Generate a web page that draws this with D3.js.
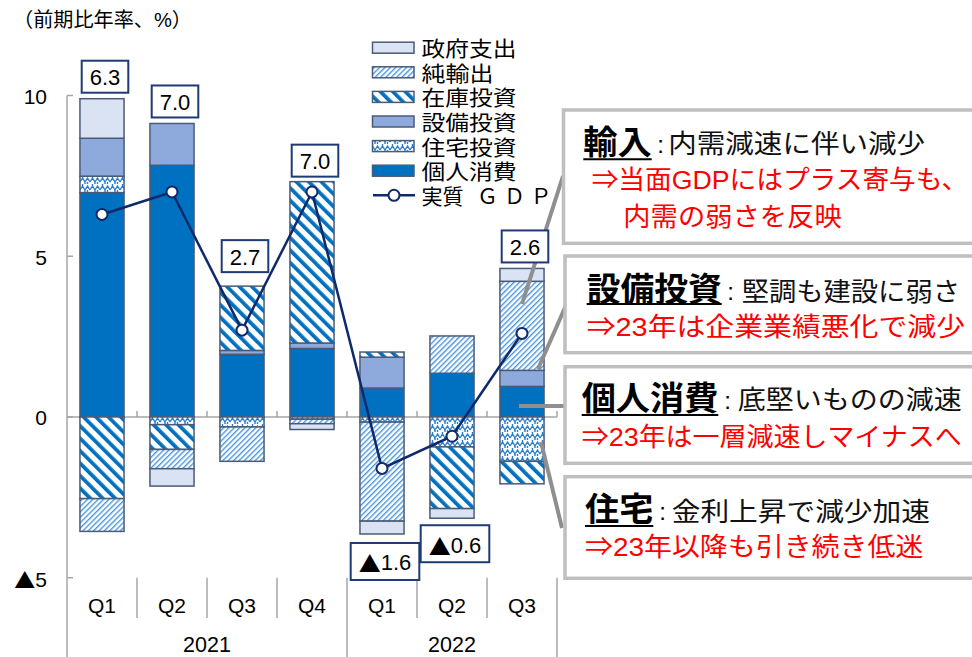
<!DOCTYPE html>
<html><head><meta charset="utf-8">
<script src="https://cdn.jsdelivr.net/npm/d3@7"></script>
<style>
html,body{margin:0;padding:0;background:#fff;}
svg{display:block;}
text{font-family:'Liberation Sans',Arial,'Noto Sans CJK JP',sans-serif;}
.tri{font-family:'Noto Sans CJK JP',sans-serif;}
</style></head>
<body>
<script>
// ---------- DATA ----------
const quarters = ["Q1","Q2","Q3","Q4","Q1","Q2","Q3"];
const years = ["2021","2022"];
const yearSpans = [4,3];
const consumption = [6.98, 7.83, 1.95, 2.13, 0.90, 1.36, 0.95];   // 個人消費
const housing     = [0.51, -0.24, -0.31, -0.07, -0.16, -0.93, -1.38]; // 住宅投資
const capex       = [1.18, 1.30, 0.12, 0.17, 0.96, 0.00, 0.50];    // 設備投資
const inventory   = [-2.54, -0.77, 2.00, 5.02, 0.16, -1.92, -0.70]; // 在庫投資
const netExports  = [-1.02, -0.60, -1.07, -0.14, -3.08, 1.16, 2.77]; // 純輸出
const government  = [1.23, -0.54, 0.00, -0.18, -0.40, -0.30, 0.40]; // 政府支出
const gdp         = [6.3, 7.0, 2.7, 7.0, -1.6, -0.6, 2.6];          // 実質ＧＤＰ
const yTicks = [10, 5, 0, -5];
const seriesNames = ["個人消費","住宅投資","設備投資","在庫投資","純輸出","政府支出"];
const legendOrder = ["政府支出","純輸出","在庫投資","設備投資","住宅投資","個人消費"];
const gdpName = ["実質", "Ｇ", "Ｄ", "Ｐ"];
const yTitle = "（前期比年率、%）";

// ---------- SETUP ----------
const W = 972, H = 657;
const svg = d3.select("body").append("svg").attr("width", W).attr("height", H);
const defs = svg.append("defs");

function stripePattern(id, period, width, color, angle) {
  const p = defs.append("pattern").attr("id", id).attr("patternUnits", "userSpaceOnUse")
    .attr("width", period).attr("height", period).attr("patternTransform", `rotate(${angle})`);
  p.append("rect").attr("width", period).attr("height", period).attr("fill", "#fff");
  p.append("rect").attr("width", width).attr("height", period).attr("fill", color);
}
stripePattern("patInv", 8.8, 3.7, "#0070C0", -45);
stripePattern("patNet", 3.8, 1.4, "#4A96DC", 45);
{
  const p = defs.append("pattern").attr("id", "patHouse").attr("patternUnits", "userSpaceOnUse")
    .attr("width", 10).attr("height", 8);
  p.append("rect").attr("width", 10).attr("height", 8).attr("fill", "#fff");
  p.append("path").attr("d", "M0,6 L2.5,2 L5,6 L7.5,2 L10,6 M2.5,2 L2.5,0 M7.5,6 L7.5,8 M5,6 L5,8")
    .attr("fill", "none").attr("stroke", "#2A7FCC").attr("stroke-width", 1.4);
}
const fills = {
  "個人消費": "#0070C0",
  "住宅投資": "url(#patHouse)",
  "設備投資": "#8EAADC",
  "在庫投資": "url(#patInv)",
  "純輸出": "url(#patNet)",
  "政府支出": "#DAE3F3"
};
const barStroke = "#4A5B78";
const navy = "#0E2A6A";
const axisGray = "#A6A6A6";

const x = d3.scaleBand().domain(d3.range(quarters.length)).range([67, 557])
  .paddingInner(0.37).paddingOuter(0.185);
const y = d3.scaleLinear().domain([-5, 10]).range([577.7, 95.5]);
const step = x.step();

function setValueText(sel, v, digits) {
  if (v < 0) {
    sel.append("tspan").attr("class", "tri").text("▲");
    sel.append("tspan").text(Math.abs(v).toFixed(digits));
  } else {
    sel.text(v.toFixed(digits));
  }
}

// ---------- AXES ----------
const ax = svg.append("g");
ax.append("line").attr("x1", 67).attr("x2", 67).attr("y1", y(10)).attr("y2", H)
  .attr("stroke", axisGray).attr("stroke-width", 1.5);
yTicks.forEach(t => {
  ax.append("line").attr("x1", 67).attr("x2", 73).attr("y1", y(t)).attr("y2", y(t))
    .attr("stroke", axisGray).attr("stroke-width", 1.5);
  const tx = ax.append("text").attr("x", 47).attr("y", y(t) + 1).attr("text-anchor", "end")
    .attr("dominant-baseline", "central").attr("font-size", 21).attr("fill", "#000");
  setValueText(tx, t, 0);
});
ax.append("line").attr("x1", 67).attr("x2", 557).attr("y1", y(0)).attr("y2", y(0))
  .attr("stroke", axisGray).attr("stroke-width", 1.5);
d3.range(1, quarters.length + 1).forEach(i => {
  const xb = 67 + step * i;
  ax.append("line").attr("x1", xb).attr("x2", xb).attr("y1", y(0) - 6).attr("y2", y(0))
    .attr("stroke", axisGray).attr("stroke-width", 1.5);
});
let cum = 0;
const yearBounds = yearSpans.map(s => (cum += s));
d3.range(1, quarters.length + 1).forEach(i => {
  const xb = 67 + step * i;
  const isYear = yearBounds.includes(i);
  ax.append("line").attr("x1", xb).attr("x2", xb).attr("y1", y(-5)).attr("y2", isYear ? H : 618)
    .attr("stroke", axisGray).attr("stroke-width", 1.5);
});
quarters.forEach((q, i) => {
  ax.append("text").attr("x", x(i) + x.bandwidth() / 2).attr("y", 605)
    .attr("text-anchor", "middle").attr("dominant-baseline", "central")
    .attr("font-size", 21).text(q);
});
let start = 0;
years.forEach((yr, k) => {
  const x0 = 67 + step * start, x1 = 67 + step * (start + yearSpans[k]);
  ax.append("text").attr("x", (x0 + x1) / 2).attr("y", 645)
    .attr("text-anchor", "middle").attr("dominant-baseline", "central")
    .attr("font-size", 21.5).text(yr);
  start += yearSpans[k];
});
svg.append("text").attr("x", 13).attr("y", 20).attr("dominant-baseline", "central")
  .attr("font-size", 20).attr("textLength", 179).attr("lengthAdjust", "spacingAndGlyphs").text(yTitle);

// ---------- BARS ----------
const seriesArrays = {
  "個人消費": consumption, "住宅投資": housing, "設備投資": capex,
  "在庫投資": inventory, "純輸出": netExports, "政府支出": government
};
const rows = quarters.map((q, i) => {
  const r = { i };
  seriesNames.forEach(n => r[n] = seriesArrays[n][i]);
  return r;
});
const stacked = d3.stack().keys(seriesNames).offset(d3.stackOffsetDiverging)(rows);
const barsG = svg.append("g");
stacked.forEach(s => {
  barsG.selectAll(null).data(s.filter(d => Math.abs(d[1] - d[0]) > 0.001)).join("rect")
    .attr("x", d => x(d.data.i))
    .attr("width", x.bandwidth())
    .attr("y", d => y(Math.max(d[0], d[1])))
    .attr("height", d => Math.abs(y(d[0]) - y(d[1])))
    .attr("fill", fills[s.key])
    .attr("stroke", barStroke).attr("stroke-width", 1.5);
});

// ---------- GDP LINE ----------
const line = d3.line().x((d, i) => x(i) + x.bandwidth() / 2).y(d => y(d));
svg.append("path").datum(gdp).attr("d", line).attr("fill", "none")
  .attr("stroke", navy).attr("stroke-width", 2.5);
svg.append("g").selectAll("circle").data(gdp).join("circle")
  .attr("cx", (d, i) => x(i) + x.bandwidth() / 2).attr("cy", d => y(d)).attr("r", 5.5)
  .attr("fill", "#fff").attr("stroke", navy).attr("stroke-width", 2);

// ---------- CONNECTORS ----------
const conn = [
  [522, 304, 563, 176],
  [538, 369, 567, 303],
  [519, 406, 566, 406],
  [541, 442, 562, 528]
];
const connG = svg.append("g");
conn.forEach(c => {
  connG.append("line").attr("x1", c[0]).attr("y1", c[1]).attr("x2", c[2]).attr("y2", c[3])
    .attr("stroke", "#8F8F8F").attr("stroke-width", 4);
});

// ---------- DATA LABELS ----------
const labelGap = [6, 6, 14, 5, 9, 7, 6];
const labG = svg.append("g");
gdp.forEach((v, i) => {
  const pos = d3.sum(seriesNames, n => Math.max(0, seriesArrays[n][i]));
  const neg = d3.sum(seriesNames, n => Math.min(0, seriesArrays[n][i]));
  const bh = v < 0 ? 37 : 32;
  const cx = x(i) + x.bandwidth() / 2 + 3;
  const top = v < 0 ? y(neg) + labelGap[i] : y(pos) - labelGap[i] - bh;
  const g = labG.append("g");
  const r = g.append("rect").attr("y", top).attr("height", bh)
    .attr("fill", "#fff").attr("stroke", "#1F3B73").attr("stroke-width", 2);
  const t = g.append("text").attr("x", cx).attr("y", top + bh / 2 + 1).attr("text-anchor", "middle")
    .attr("dominant-baseline", "central").attr("font-size", 22);
  setValueText(t, v, 1);
  const w = t.node().getComputedTextLength() + 16;
  r.attr("x", cx - w / 2).attr("width", w);
});

// ---------- LEGEND ----------
const lg = svg.append("g");
const legW = [95, 72, 95, 95, 95, 95];
legendOrder.forEach((n, k) => {
  const cy = 47.7 + k * 24.6;
  lg.append("rect").attr("x", 372.5).attr("y", cy - 5.5).attr("width", 41.5).attr("height", 11)
    .attr("fill", fills[n]).attr("stroke", barStroke).attr("stroke-width", 1.5);
  lg.append("text").attr("x", 421.5).attr("y", cy + 1).attr("dominant-baseline", "central")
    .attr("font-size", 21).attr("textLength", legW[k]).attr("lengthAdjust", "spacingAndGlyphs").text(n);
});
{
  const cy = 47.7 + 6 * 24.6;
  lg.append("line").attr("x1", 373).attr("x2", 415).attr("y1", cy).attr("y2", cy)
    .attr("stroke", navy).attr("stroke-width", 2.5);
  lg.append("circle").attr("cx", 394).attr("cy", cy).attr("r", 5.5)
    .attr("fill", "#fff").attr("stroke", navy).attr("stroke-width", 2);
  const gt = lg.append("text").attr("y", cy + 1).attr("dominant-baseline", "central").attr("font-size", 21);
  const gx = [421.5, 477, 504, 530.5];
  gdpName.forEach((s, k) => gt.append("tspan").attr("x", gx[k]).text(s));
}

// ---------- ANNOTATION BOXES ----------
const notes = [
  { box: [563.5, 110, 133.3],
    title: "輸入", tx: 583.3, tw: 68.4, ty: 142.6, uy: 159.3,
    cx: 660.5, body: "内需減速に伴い減少", bx: 668.3, bw: 256.7, by: 144,
    red: [["⇒当面GDPにはプラス寄与も、", 591.7, 376.6, 180], ["内需の弱さを反映", 623.3, 218.4, 216.7]] },
  { box: [565, 256, 96.7],
    title: "設備投資", tx: 586.7, tw: 135, ty: 289.3, uy: 304,
    cx: 730.5, body: "堅調も建設に弱さ", bx: 741.7, bw: 218.3, by: 291.7,
    red: [["⇒23年は企業業績悪化で減少", 586.7, 378.3, 326.7]] },
  { box: [565, 366.7, 96.6],
    title: "個人消費", tx: 581.7, tw: 136.6, ty: 398.3, uy: 415,
    cx: 727.5, body: "底堅いものの減速", bx: 737.7, bw: 224, by: 400,
    red: [["⇒23年は一層減速しマイナスへ", 581.7, 380, 436.7]] },
  { box: [565, 476.7, 101.6],
    title: "住宅", tx: 585, tw: 68.3, ty: 509.3, uy: 526,
    cx: 662.5, body: "金利上昇で減少加速", bx: 671.7, bw: 258.3, by: 511.7,
    red: [["⇒23年以降も引き続き低迷", 585, 338.3, 546.7]] }
];
const ng = svg.append("g");
notes.forEach(nt => {
  ng.append("rect").attr("x", nt.box[0]).attr("y", nt.box[1]).attr("width", 420).attr("height", nt.box[2])
    .attr("fill", "#fff").attr("stroke", "#BFBFBF").attr("stroke-width", 3.5);
  ng.append("text").attr("x", nt.tx).attr("y", nt.ty).attr("dominant-baseline", "central")
    .attr("font-size", 33).attr("font-weight", "bold").attr("textLength", nt.tw).attr("lengthAdjust", "spacingAndGlyphs")
    .text(nt.title);
  ng.append("line").attr("x1", nt.tx).attr("x2", nt.tx + nt.tw).attr("y1", nt.uy).attr("y2", nt.uy)
    .attr("stroke", "#000").attr("stroke-width", 2);
  ng.append("text").attr("x", nt.cx).attr("y", nt.by).attr("dominant-baseline", "central")
    .attr("text-anchor", "middle").attr("font-size", 24).text(":");
  ng.append("text").attr("x", nt.bx).attr("y", nt.by).attr("dominant-baseline", "central")
    .attr("font-size", 26).attr("textLength", nt.bw).attr("lengthAdjust", "spacingAndGlyphs").attr("fill", "#111")
    .text(nt.body);
  nt.red.forEach(r => {
    ng.append("text").attr("x", r[1]).attr("y", r[3]).attr("dominant-baseline", "central")
      .attr("font-size", 26).attr("textLength", r[2]).attr("lengthAdjust", "spacingAndGlyphs").attr("fill", "#FF0000")
      .text(r[0]);
  });
});
</script>
</body></html>
